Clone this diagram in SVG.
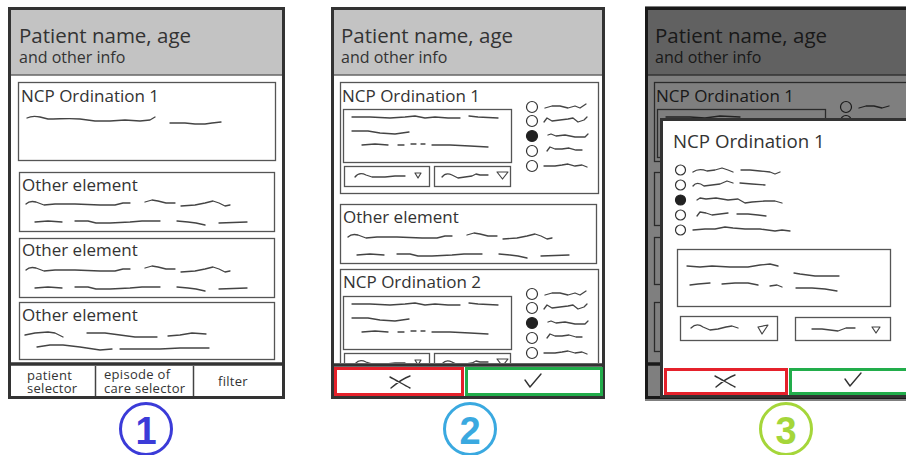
<svg xmlns="http://www.w3.org/2000/svg" xmlns:xlink="http://www.w3.org/1999/xlink" width="906" height="455" viewBox="0 0 906 455">
<style>
.frame{fill:#fff;stroke:#333;stroke-width:3}
.hdr{fill:#c3c3c3}
.hline{stroke:#666;stroke-width:1.5}
.box{fill:#fff;stroke:#555;stroke-width:1.3}
.sq{fill:none;stroke:#444;stroke-width:1.3;stroke-linecap:round;stroke-linejoin:round}
.tri{fill:#fff;stroke:#444;stroke-width:1.2;stroke-linejoin:round}
.radio{fill:#fff;stroke:#333;stroke-width:1.2}
.radioOn{fill:#222;stroke:#222;stroke-width:1.2}
.txt{font-family:"Open Sans","Noto Sans","Liberation Sans",sans-serif;fill:#333}
.h1{font-size:20.5px}
.h2{font-size:16px}
.t17{font-size:17px}
.small{font-size:13px;letter-spacing:0.3px}
.sep{stroke:#333;stroke-width:3.5}
.red{fill:#fff;stroke:#e5212b;stroke-width:3}
.green{fill:#fff;stroke:#22ad4b;stroke-width:3}
.mark{fill:none;stroke:#333;stroke-width:1.4;stroke-linecap:round;stroke-linejoin:round}
.num{font-family:"Liberation Sans","DejaVu Sans",sans-serif;font-weight:bold;font-size:38px;text-anchor:middle}
</style>
<defs>
<g id="oeLines">
<path class="sq" d="M7,32 C10,29 13,29 17,30 L25,33 L36,32 L56,32 L81,33 L96,33 L104,31 L111,31 M126,30 L133,28 L139,29 L147,31 L156,31 M162,34 L176,33 L186,31 L194,29 L200,31 L206,34 L211,33"/>
<path class="sq" d="M16,50 L29,49 L43,50 M56,49 L69,49 L77,51 L91,51 L111,50 L123,49 L141,49 M158,49 L169,50 L177,51 L186,53 M200,51 L228,50"/>
</g>
<g id="ncpBody">
<rect class="box" x="0.5" y="0.5" width="258" height="111"/>
<rect class="box" x="3.5" y="27.5" width="168" height="53"/>
<path class="sq" d="M12,35 L30,35 L50,36 L65,35 L75,34 L85,36 L95,35 L108,36 L120,36 M129,34 L138,35 L158,36 M12,49 L28,49 L40,51 L55,52 L69,50 M22,63 L35,62 L48,63 M58,63 L64,63 M71,62 L76,62 M81,62 L85,62 M92,63 L110,63 L130,64 L148,65"/>
<rect class="box" x="4.5" y="84.5" width="85" height="20"/>
<path class="sq" d="M15,95 C18,91 22,91 26,93 L32,95 L45,95 L55,94 L65,94"/>
<path class="tri" d="M75,91 L81,91 L78,96 Z"/>
<rect class="box" x="94.5" y="84.5" width="76" height="20"/>
<path class="sq" d="M102,95 C105,91 108,91 112,93 L118,96 L125,95 L132,94 L136,92 L140,93 L148,93"/>
<path class="tri" d="M157,90 L168,90 L162.5,97 Z"/>
<circle class="radio" cx="192" cy="25" r="5.5"/>
<circle class="radio" cx="192" cy="39" r="5.5"/>
<circle class="radioOn" cx="192" cy="54" r="5.5"/>
<circle class="radio" cx="192" cy="69" r="5.5"/>
<circle class="radio" cx="192" cy="84" r="5.5"/>
<path class="sq" d="M205,26 L212,24 L220,24 L228,26 L235,24 L240,26 L246,22 M204,40 L207,36 L212,39 L220,38 L228,37 L233,36 L238,40 L244,38 L247,35 M208,53 L211,52 L216,54 L225,53 L235,55 L245,55 L248,52 M207,69 L210,65 L215,67 L222,67 L229,66 L236,68 L242,68 M204,84 L215,84 L222,83 L228,82 L235,84 L242,83 L247,85"/>
</g>
<path id="xMark" class="mark" d="M-10,-5 C-4,-2 4,3 10,6 M-9,6 C-3,1 4,-4 10,-6"/>
<path id="checkMark" class="mark" d="M-8,-2 L-3,5 L8,-8"/>
<clipPath id="clip2"><rect x="333" y="200" width="270" height="163"/></clipPath>
</defs>

<g id="panel1">
<rect class="frame" x="9.5" y="8.5" width="274" height="389"/>
<rect class="hdr" x="11" y="10" width="271" height="65"/>
<line class="hline" x1="11" y1="75" x2="282" y2="75"/>
<text class="txt h1" x="19" y="43">Patient name, age</text>
<text class="txt h2" x="19" y="63">and other info</text>
<g id="p1-ncp1">
<rect class="box" x="18.5" y="82.5" width="257" height="78"/>
<text class="txt t17" x="21" y="102">NCP Ordination 1</text>
<path class="sq" d="M27,118 C31,116 35,116 40,117 L48,119 C60,119 70,118 80,119 L95,121 L110,121 L125,120 L140,121 L150,120 L155,117 M170,123 L185,123 L195,124 L205,124 L212,123 L221,122"/>
</g>
<g id="p1-other1">
<rect class="box" x="19.5" y="172.5" width="255" height="59"/>
<text class="txt t17" x="22" y="191">Other element</text>
<use xlink:href="#oeLines" transform="translate(19,172)"/>
</g>
<g id="p1-other2">
<rect class="box" x="19.5" y="238.5" width="255" height="59"/>
<text class="txt t17" x="22" y="256">Other element</text>
<use xlink:href="#oeLines" transform="translate(19,238)"/>
</g>
<g id="p1-other3">
<rect class="box" x="19.5" y="302.5" width="255" height="57"/>
<text class="txt t17" x="22" y="321">Other element</text>
<path class="sq" d="M25,335 L35,333 L48,332 L55,333 L63,337 M87,333 L105,333 L120,335 L135,337 L157,337 M168,336 L180,335 L192,333 L206,334 M37,347 L50,345 L63,345 L80,347 L100,350 L112,349 M120,349 L140,349 L160,349 L180,348 L209,348"/>
</g>
<g id="p1-footer">
<line class="sep" x1="11" y1="364" x2="282" y2="364"/>
<line x1="95.5" y1="366" x2="95.5" y2="396" stroke="#444" stroke-width="1.5"/>
<line x1="193.5" y1="366" x2="193.5" y2="396" stroke="#444" stroke-width="1.5"/>
<text class="txt small" x="27" y="379.5">patient</text>
<text class="txt small" x="27" y="393">selector</text>
<text class="txt small" x="104" y="378.5">episode of</text>
<text class="txt small" x="104" y="393">care selector</text>
<text class="txt small" x="218" y="386">filter</text>
</g>
</g>

<g id="panel2">
<rect class="frame" x="332.5" y="8.5" width="271" height="389"/>
<rect class="hdr" x="334" y="10" width="268" height="65"/>
<line class="hline" x1="334" y1="75" x2="602" y2="75"/>
<text class="txt h1" x="341" y="43">Patient name, age</text>
<text class="txt h2" x="341" y="63">and other info</text>
<g id="p2-ncp1">
<use xlink:href="#ncpBody" transform="translate(340,82)"/>
<text class="txt t17" x="342" y="102">NCP Ordination 1</text>
</g>
<g id="p2-other">
<rect class="box" x="340.5" y="204.5" width="256" height="59"/>
<text class="txt t17" x="343" y="223">Other element</text>
<use xlink:href="#oeLines" transform="translate(341,205)"/>
</g>
<g id="p2-ncp2" clip-path="url(#clip2)">
<use xlink:href="#ncpBody" transform="translate(340,269)"/>
<text class="txt t17" x="343" y="288">NCP Ordination 2</text>
</g>
<line class="sep" x1="334" y1="365" x2="602" y2="365"/>
<g id="p2-cancel">
<rect class="red" x="335.5" y="368.5" width="127" height="26"/>
<use xlink:href="#xMark" transform="translate(400,382)"/>
</g>
<g id="p2-ok">
<rect class="green" x="466.5" y="368.5" width="135" height="26"/>
<use xlink:href="#checkMark" transform="translate(533,382)"/>
</g>
</g>

<g id="panel3">
<rect class="frame" x="646.5" y="8.5" width="280" height="389"/>
<rect class="hdr" x="648" y="10" width="278" height="65"/>
<line class="hline" x1="648" y1="75" x2="926" y2="75"/>
<text class="txt h1" x="655" y="43">Patient name, age</text>
<text class="txt h2" x="655" y="63">and other info</text>
<rect class="box" x="654.5" y="82.5" width="258" height="79"/>
<text class="txt t17" x="656" y="102">NCP Ordination 1</text>
<rect class="box" x="657.5" y="109.5" width="168" height="48"/>
<path class="sq" d="M666,117 L690,117 L705,118 L720,116 L740,117"/>
<circle class="radio" cx="846" cy="107" r="5.5"/>
<circle class="radio" cx="846" cy="121" r="5.5"/>
<path class="sq" d="M859,108 L866,106 L874,106 L882,108 L889,106"/>
<rect class="box" x="654.5" y="172.5" width="258" height="53"/>
<rect class="box" x="654.5" y="237.5" width="258" height="47"/>
<rect class="box" x="654.5" y="302.5" width="258" height="49"/>
<line class="sep" x1="648" y1="364" x2="926" y2="364"/>
<rect x="645" y="6" width="270" height="395" fill="#000" fill-opacity="0.5"/>
<g id="modal">
<rect x="661.5" y="119.5" width="260" height="277" fill="#fff" stroke="#333" stroke-width="3"/>
<text class="txt" x="673" y="148" font-size="18.7">NCP Ordination 1</text>
<circle class="radio" cx="680.5" cy="170" r="5"/>
<circle class="radio" cx="680.5" cy="185" r="5"/>
<circle class="radioOn" cx="680.5" cy="200" r="5"/>
<circle class="radio" cx="680.5" cy="215" r="5"/>
<circle class="radio" cx="680.5" cy="230" r="5"/>
<path class="sq" d="M693,172 C697,169 702,169 707,171 L715,170 L722,168 L728,170 L733,172 M741,170 L750,170 L760,171 L770,172 L775,174 L780,172 M693,186 C696,182 700,183 704,186 L712,185 L720,184 L727,181 L733,183 M740,183 L752,184 L765,185 M697,200 L700,198 L706,199 L716,198 L728,200 L738,199 L745,203 L752,202 L765,201 L775,201 L782,203 M697,216 L700,212 L706,213 L712,215 L720,214 L728,213 M737,214 L748,214 L758,215 L766,216 M693,230 L705,229 L715,229 L725,227 L733,228 L745,229 L760,229 L775,231 L782,230 L790,231"/>
<rect class="box" x="677.5" y="249.5" width="213" height="57"/>
<path class="sq" d="M687,266 L700,267 L712,266 L730,267 L748,267 L760,265 L770,264 L778,266 M794,273 L800,274 L815,276 L839,276 M690,285 L698,284 L710,283 M722,284 L735,283 L748,283 L758,285 M770,286 L777,285 L782,287 M796,288 L812,288 L825,289 L837,291"/>
<rect class="box" x="680.5" y="316.5" width="97" height="24"/>
<path class="sq" d="M691,328 C695,324 699,324 703,327 L710,330 L718,329 L726,327 L732,326 L738,328"/>
<path class="tri" d="M758,327 L768,325 L762,334 Z"/>
<rect class="box" x="795.5" y="317.5" width="95" height="23"/>
<path class="sq" d="M812,329 L822,329 L830,330 L838,331 L846,328 L855,328"/>
<path class="tri" d="M872,327 L880,327 L876,333 Z"/>
<g id="p3-cancel">
<rect class="red" x="665.5" y="369.5" width="121" height="24"/>
<use xlink:href="#xMark" transform="translate(725,381)"/>
</g>
<g id="p3-ok">
<rect class="green" x="790.5" y="369.5" width="125" height="24"/>
<use xlink:href="#checkMark" transform="translate(853,381)"/>
</g>
</g>
</g>

<g id="badge1">
<circle cx="146" cy="429" r="25.5" fill="none" stroke="#3b3bd8" stroke-width="3"/>
<text class="num" x="146" y="444" fill="#3b3bd8">1</text>
</g>
<g id="badge2">
<circle cx="470" cy="429" r="25.5" fill="none" stroke="#3aa9e0" stroke-width="3"/>
<text class="num" x="470" y="444" fill="#3aa9e0">2</text>
</g>
<g id="badge3">
<circle cx="786" cy="429" r="25.5" fill="none" stroke="#a5d63a" stroke-width="3"/>
<text class="num" x="786" y="444" fill="#a5d63a">3</text>
</g>
</svg>
